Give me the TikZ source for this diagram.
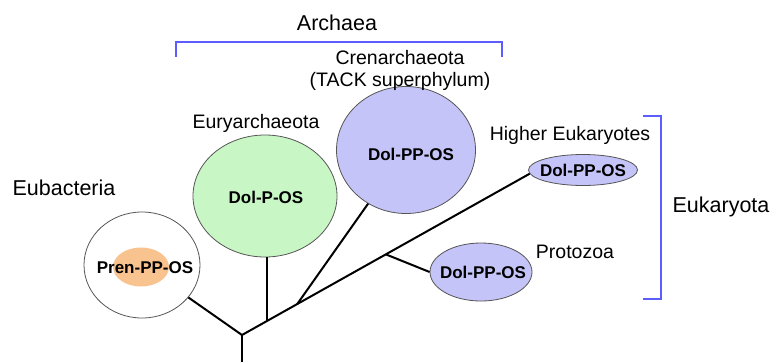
\documentclass[tikz,border=0pt]{standalone}
\usepackage{fontspec}
\setmainfont{Liberation Sans}
\usetikzlibrary{shapes.geometric,calc}
\definecolor{grfill}{HTML}{C8F7C5}
\definecolor{blfill}{HTML}{C4C4F8}
\definecolor{orfill}{HTML}{F8C38E}
\definecolor{brk}{HTML}{5C5CFF}
\definecolor{edge}{HTML}{555555}
\tikzset{
  blob/.style={ellipse, draw=edge, line width=0.8pt, inner sep=0pt},
  lbl/.style={font=\fontsize{19.5}{22}\selectfont, inner sep=0pt, align=center},
  biglbl/.style={font=\fontsize{21.5}{24}\selectfont, inner sep=0pt},
  blab/.style={font=\fontsize{17}{19}\selectfont\bfseries, inner sep=0pt},
  branch/.style={line width=2pt, black},
  bracket/.style={line width=2pt, brk}
}
\begin{document}
\begin{tikzpicture}[x=1pt,y=-1pt]
\useasboundingbox (0,0) rectangle (773,362);
% ellipses
\node[blob, fill=white, minimum width=116, minimum height=106] (eub) at (142,265) {};
\node[ellipse, fill=orfill, inner sep=0pt, minimum width=56, minimum height=39] (eubin) at (141,267) {};
\node[blab] (eubt) at (145,268) {Pren-PP-OS};
\node[blob, fill=grfill, minimum width=144, minimum height=122] (eury) at (265,196) {};
\node[blab] (euryt) at (266,197) {Dol-P-OS};
\node[blob, fill=blfill, minimum width=139, minimum height=127] (cren) at (406,150) {};
\node[blab] (crent) at (411,154) {Dol-PP-OS};
\node[blob, fill=blfill, minimum width=109, minimum height=31] (hieuk) at (583,170) {};
\node[blab] (hieukt) at (583,170) {Dol-PP-OS};
\node[blob, fill=blfill, minimum width=102, minimum height=58] (proto) at (481,272) {};
\node[blab] (protot) at (483,272) {Dol-PP-OS};
% labels
\node[biglbl] (eubl) at (64,188) {Eubacteria};
\node[lbl] (euryl) at (256,123) {Euryarchaeota};
\node[lbl] (crenl) at (400,70) {Crenarchaeota\\(TACK superphylum)};
\node[lbl] (hieukl) at (570,135) {Higher Eukaryotes};
\node[lbl] (protol) at (575,252) {Protozoa};
\node[biglbl] (archl) at (337,23) {Archaea};
\node[biglbl] (eukl) at (721,207) {Eukaryota};
% tree
\coordinate (root) at (242,362);
\coordinate (j0) at (242,335);
\coordinate (hend) at (hieuk.184);
\coordinate (j1) at ($(j0)!0.0874!(hend)$);
\coordinate (j2) at ($(j0)!0.192!(hend)$);
\coordinate (j3) at ($(j0)!0.500!(hend)$);
\draw[branch] (root) -- (j0);
\draw[branch] (j0) -- (eub);
\draw[branch] (j0) -- (hend);
\draw[branch] (j1) -- (j1 |- eury.south);
\draw[branch] (j2) -- (cren);
\draw[branch] (j3) -- (proto.west);
% brackets
\coordinate (a1) at (176,57);
\coordinate (a2) at (502,57);
\draw[bracket] (a1) -- ++(0,-15) -| (a2);
\coordinate (e1) at (643,116);
\coordinate (e2) at (643,299);
\draw[bracket] (e1) -- ++(18,0) |- (e2);
\end{tikzpicture}
\end{document}
